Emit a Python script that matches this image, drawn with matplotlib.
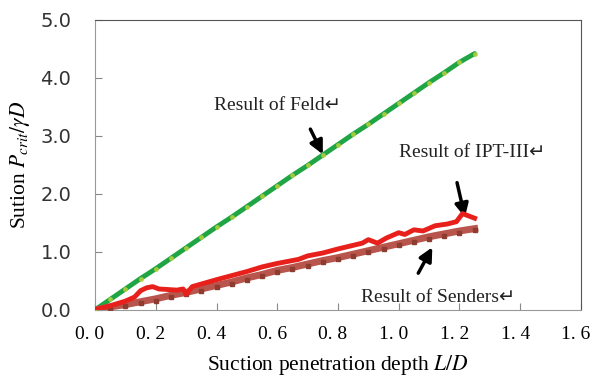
import matplotlib.pyplot as plt
import matplotlib.transforms as mtransforms

plt.rcParams["mathtext.fontset"] = "stix"

# Feld (green), IPT-III (red), Senders (brown)
feld_x = [0.0, 0.05, 0.10, 0.15, 0.20, 0.25, 0.30, 0.35, 0.40, 0.45, 0.50, 0.55, 0.60,
          0.65, 0.70, 0.75, 0.80, 0.85, 0.90, 0.95, 1.00, 1.05, 1.10, 1.15, 1.20, 1.25]
feld_y = [0.0, 0.18, 0.36, 0.54, 0.71, 0.89, 1.07, 1.25, 1.43, 1.60, 1.78, 1.96, 2.14,
          2.32, 2.49, 2.67, 2.85, 3.03, 3.20, 3.38, 3.56, 3.74, 3.92, 4.09, 4.27, 4.42]

ipt_x = [0.0, 0.05, 0.10, 0.13, 0.15, 0.17, 0.19, 0.21, 0.24, 0.27, 0.29, 0.30, 0.32,
         0.36, 0.40, 0.45, 0.50, 0.55, 0.60, 0.67, 0.70, 0.75, 0.80, 0.84, 0.88, 0.90,
         0.93, 0.96, 1.00, 1.02, 1.05, 1.08, 1.12, 1.16, 1.19, 1.21, 1.23, 1.25]
ipt_y = [0.0, 0.07, 0.15, 0.22, 0.33, 0.38, 0.40, 0.36, 0.35, 0.34, 0.36, 0.27, 0.40,
         0.46, 0.52, 0.59, 0.66, 0.74, 0.80, 0.87, 0.93, 0.98, 1.05, 1.10, 1.15, 1.21,
         1.15, 1.24, 1.33, 1.30, 1.38, 1.36, 1.45, 1.48, 1.52, 1.66, 1.62, 1.58]

senders_x = [0.0, 0.05, 0.10, 0.15, 0.20, 0.25, 0.30, 0.35, 0.40, 0.45, 0.50, 0.55, 0.60,
             0.65, 0.70, 0.75, 0.80, 0.85, 0.90, 0.95, 1.00, 1.05, 1.10, 1.15, 1.20, 1.25]
senders_y = [0.0, 0.05, 0.09, 0.14, 0.19, 0.25, 0.30, 0.36, 0.42, 0.48, 0.55, 0.61, 0.68,
             0.73, 0.79, 0.85, 0.90, 0.96, 1.02, 1.08, 1.14, 1.20, 1.26, 1.31, 1.36, 1.40]

xticks = [0.0, 0.2, 0.4, 0.6, 0.8, 1.0, 1.2, 1.4, 1.6]
xtick_labels = ["0. 0", "0. 2", "0. 4", "0. 6", "0. 8", "1. 0", "1. 2", "1. 4", "1. 6"]
yticks = [0.0, 1.0, 2.0, 3.0, 4.0, 5.0]

serif = ["Liberation Serif", "DejaVu Sans"]

fig = plt.figure(figsize=(5.94, 3.76), dpi=100)
ax = fig.add_axes([0.16, 0.176, 0.818, 0.771])

ax.plot(feld_x, feld_y, color="#1fa544", lw=3.5, solid_capstyle="round", zorder=3)
ax.plot(feld_x, feld_y, ls="none", marker="o", ms=2.5, color="#b5d13c", alpha=0.8, zorder=4)

ax.plot(senders_x, senders_y, color="#b8554c", lw=5, zorder=3)
ax.plot(senders_x, [v - 0.03 for v in senders_y], ls="none", marker="s", ms=2.5,
        color="#8e3b30", zorder=3)

ax.plot(ipt_x, ipt_y, color="#e8201c", lw=3.5, zorder=5)

ax.set_xlim(0, 1.6)
ax.set_ylim(0, 5.0)
ax.set_xticks(xticks)
ax.set_xticklabels(xtick_labels, family=serif, fontsize=14)
ax.set_yticks(yticks)
ax.set_yticklabels([f"{v:.1f}" for v in yticks], fontsize=14, color="#333333")
ax.tick_params(direction="in", length=5, color="#888888")
ax.tick_params(axis="x", pad=12)
ax.tick_params(axis="y", pad=17)

for side in ["left", "bottom"]:
    ax.spines[side].set_color("#999999")
for side in ["top", "right"]:
    ax.spines[side].set_color("#555555")

ax.set_xlabel("Suction penetration depth $L/D$", family=serif, fontsize=15.5)
ax.set_ylabel(r"Sution $P_{crit}/\gamma D$", family=serif, fontsize=15.5)
ax.xaxis.set_label_coords(0.5, -0.15)
ax.yaxis.set_label_coords(-0.13, 0.5)

arrow = dict(arrowstyle="-|>", lw=2.5, color="black", mutation_scale=20)
ax.annotate("", xy=(0.754, 2.64), xytext=(0.705, 3.16), arrowprops=arrow)
ax.annotate("", xy=(1.22, 1.55), xytext=(1.19, 2.24), arrowprops=arrow)
ax.annotate("", xy=(1.115, 1.12), xytext=(1.06, 0.59), arrowprops=arrow)

ax.text(0.393, 3.53, "Result of Feld\u21b5", family=serif, fontsize=14, va="center", color="#222222")
ax.text(1.0, 2.72, "Result of IPT-III\u21b5", family=serif, fontsize=14, va="center", color="#222222")
ax.text(0.875, 0.22, "Result of Senders\u21b5", family=serif, fontsize=14, va="center", color="#222222")

# nudge x tick labels a few pixels left, as in the original
fig.canvas.draw()
shift = mtransforms.ScaledTranslation(-5 / 100, 0, fig.dpi_scale_trans)
for tick in ax.xaxis.get_major_ticks():
    tick.label1.set_transform(tick.label1.get_transform() + shift)

fig.savefig("out.png", dpi=100)
